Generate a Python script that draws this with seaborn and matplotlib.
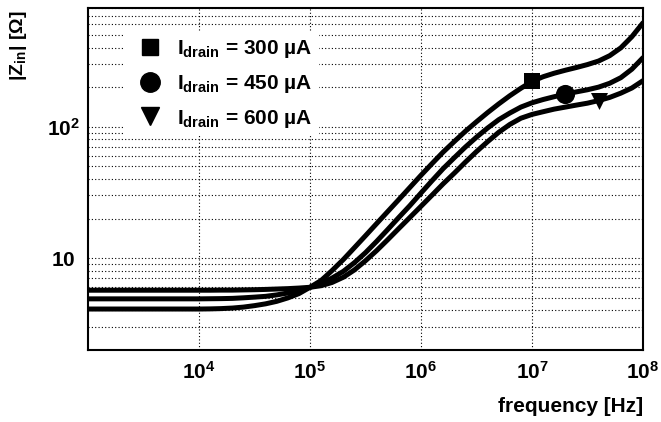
import numpy as np
import pandas as pd
import matplotlib
matplotlib.use("Agg")
import matplotlib.pyplot as plt
import seaborn as sns
from matplotlib.lines import Line2D
from matplotlib.ticker import FixedLocator, FixedFormatter, LogLocator, NullFormatter

# ---------------- data ----------------
freq = [1e3,
        1.0e4, 1.26e4, 1.58e4, 2.0e4, 2.51e4, 3.16e4, 3.98e4, 5.01e4, 6.31e4, 7.94e4,
        1.0e5, 1.26e5, 1.58e5, 2.0e5, 2.51e5, 3.16e5, 3.98e5, 5.01e5, 6.31e5, 7.94e5,
        1.0e6, 1.26e6, 1.58e6, 2.0e6, 2.51e6, 3.16e6, 3.98e6, 5.01e6, 6.31e6, 7.94e6,
        1.0e7, 1.26e7, 1.58e7, 2.0e7, 2.51e7, 3.16e7, 3.98e7, 5.01e7, 6.31e7, 7.94e7,
        1.0e8]
z_300 = [4.10,
         4.10, 4.11, 4.13, 4.17, 4.24, 4.35, 4.49, 4.69, 4.98, 5.37,
         6.00, 6.76, 8.04, 9.77, 12.0, 14.8, 18.3, 22.6, 27.9, 34.5,
         42.7, 52.5, 64.0, 77.3, 92.3, 109, 128, 149, 172, 196,
         221, 240, 255, 269, 282, 297, 316, 347, 398, 484,
         617]
z_450 = [4.90,
         4.90, 4.91, 4.92, 4.94, 4.99, 5.05, 5.12, 5.25, 5.43, 5.69,
         6.00, 6.43, 7.05, 7.94, 9.23, 11.0, 13.4, 16.5, 20.4, 25.1,
         31.3, 38.9, 47.9, 58.2, 70.0, 83.2, 97.7, 113, 127, 141,
         152, 161, 169, 177, 184, 191, 200, 214, 236, 274,
         335]
z_600 = [5.70,
         5.70, 5.70, 5.71, 5.71, 5.73, 5.75, 5.78, 5.82, 5.86, 5.92,
         6.00, 6.17, 6.53, 7.16, 8.13, 9.55, 11.4, 13.8, 16.8, 20.4,
         24.8, 30.2, 36.7, 44.4, 53.7, 64.6, 76.9, 90.6, 104, 116,
         124, 130, 136, 141, 146, 151, 158, 167, 180, 197,
         224]
currents = [300, 450, 600]
marker_freq = [1e7, 2e7, 4e7]
marker_z = [221, 177, 158]
marker_shapes = ["s", "o", "v"]
x_tick_vals = [1e4, 1e5, 1e6, 1e7, 1e8]
x_tick_labels = [r"$\mathbf{10^{4}}$", r"$\mathbf{10^{5}}$", r"$\mathbf{10^{6}}$",
                 r"$\mathbf{10^{7}}$", r"$\mathbf{10^{8}}$"]
y_tick_vals = [10, 100]
y_tick_labels = [r"$\mathbf{10}$", r"$\mathbf{10^{2}}$"]

# ---------------- style ----------------
sns.set_theme(style="white")
plt.rcParams["font.family"] = ["Liberation Sans", "DejaVu Sans"]
plt.rcParams["font.weight"] = "bold"
plt.rcParams["mathtext.fontset"] = "custom"
plt.rcParams["mathtext.rm"] = "Liberation Sans:bold"
plt.rcParams["mathtext.bf"] = "Liberation Sans:bold"
plt.rcParams["mathtext.it"] = "Liberation Sans:bold"
plt.rcParams["text.color"] = "black"
plt.rcParams["axes.labelcolor"] = "black"
plt.rcParams["xtick.color"] = "black"
plt.rcParams["ytick.color"] = "black"

fig = plt.figure(figsize=(6.61, 4.22), dpi=100)
ax = fig.add_axes([88 / 661, 72 / 422, 555 / 661, 342 / 422])

n = len(freq)
df = pd.DataFrame({
    "freq": freq * 3,
    "z": z_300 + z_450 + z_600,
    "current": [currents[0]] * n + [currents[1]] * n + [currents[2]] * n,
})

sns.lineplot(data=df, x="freq", y="z", hue="current", palette=["black"] * 3,
             estimator=None, sort=False, legend=False, lw=3.6, ax=ax, zorder=3)

sizes = [130, 190, 150]
for fx, fz, mk, sz in zip(marker_freq, marker_z, marker_shapes, sizes):
    sns.scatterplot(x=[fx], y=[fz], marker=mk, s=sz, color="black",
                    edgecolor="black", linewidth=0, ax=ax, zorder=4, legend=False)

ax.set_xscale("log")
ax.set_yscale("log")
ax.set_xlim(1e3, 1e8)
ax.set_ylim(2, 800)

ax.xaxis.set_major_locator(FixedLocator(x_tick_vals))
ax.xaxis.set_major_formatter(FixedFormatter(x_tick_labels))
ax.xaxis.set_minor_locator(LogLocator(base=10, subs=np.arange(2, 10)))
ax.xaxis.set_minor_formatter(NullFormatter())
ax.yaxis.set_major_locator(FixedLocator(y_tick_vals))
ax.yaxis.set_major_formatter(FixedFormatter(y_tick_labels))
ax.yaxis.set_minor_locator(LogLocator(base=10, subs=np.arange(2, 10)))
ax.yaxis.set_minor_formatter(NullFormatter())

ax.tick_params(axis="both", which="both", direction="in", top=False, right=False,
               colors="black", labelcolor="black", width=1.0)
ax.tick_params(axis="x", which="major", length=8.6, labelsize=15, pad=8)
ax.tick_params(axis="x", which="minor", length=3.8)
ax.tick_params(axis="y", which="major", length=10.8, labelsize=15, pad=18)
ax.tick_params(axis="y", which="minor", length=5)
for lbl in ax.get_yticklabels():
    lbl.set_horizontalalignment("center")

ax.set_axisbelow(True)
ax.grid(True, axis="x", which="major", color="black", lw=0.8, ls=(0, (1, 2)))
ax.grid(True, axis="y", which="both", color="black", lw=0.8, ls=(0, (1, 2)))

for sp in ax.spines.values():
    sp.set_color("black")
    sp.set_linewidth(1.5)

ax.set_xlabel("frequency [Hz]", fontsize=15, fontweight="bold", loc="right",
              color="black")
ax.xaxis.set_label_coords(1.0, -0.137)
ax.set_ylabel(r"|Z$_{\mathbf{in}}$| [Ω]", fontsize=14, fontweight="bold",
              loc="top", va="center", color="black")
ax.yaxis.set_label_coords(-(88 - 19) / 555, 0.994)

handles = [
    Line2D([], [], ls="none", marker="s", ms=11, color="black"),
    Line2D([], [], ls="none", marker="o", ms=14, color="black"),
    Line2D([], [], ls="none", marker="v", ms=13, color="black"),
]
labels = [r"I$_{\mathbf{drain}}$ = %d µA" % c for c in currents]
leg = ax.legend(handles, labels, loc="upper left", bbox_to_anchor=(0.0667, 0.930),
                frameon=True, fancybox=False, edgecolor="none", facecolor="white",
                framealpha=1, prop={"weight": "bold", "size": 15},
                handlelength=1.8, handletextpad=0.4, borderpad=0.3,
                labelspacing=0.61, borderaxespad=0, labelcolor="black")
leg.set_zorder(5)

fig.savefig("out.png", dpi=100, facecolor="white")
